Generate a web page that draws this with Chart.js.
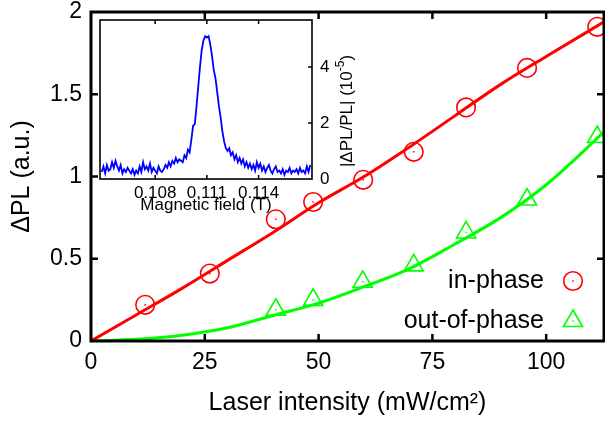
<!DOCTYPE html>
<html>
<head>
<meta charset="utf-8">
<script src="https://cdn.jsdelivr.net/npm/chart.js@4.4.1/dist/chart.umd.min.js"></script>
<style>
    body { margin: 0; background: #fff; }
    #wrap { position: relative; width: 605px; height: 424px; }
    #main { position: absolute; left: 0; top: 0; }
    #inset { position: absolute; left: 92px; top: 14px; }
</style>
</head>
<body>
<div id="wrap">
    <canvas id="main" width="605" height="424"></canvas>
    <canvas id="inset" width="270" height="206"></canvas>
</div>
<script>
// main panel: Delta PL vs laser intensity
var inPhaseIntensity = [11.9, 26.1, 40.6, 48.8, 59.8, 70.9, 82.4, 95.8, 111.2];
var inPhase = [0.22, 0.41, 0.74, 0.845, 0.98, 1.15, 1.42, 1.66, 1.91];
var outPhaseIntensity = [40.6, 48.8, 59.7, 70.9, 82.4, 95.8, 111.2];
var outOfPhase = [0.19, 0.25, 0.36, 0.46, 0.66, 0.86, 1.24];
var fitIntensity = [0, 10, 20, 30, 40, 50, 60, 70, 80, 90, 100, 112.7];
var inPhaseFit = [0, 0.16, 0.32, 0.49, 0.66, 0.84, 1.0, 1.18, 1.37, 1.56, 1.73, 1.94];
var outOfPhaseFit = [0, 0.01, 0.035, 0.08, 0.155, 0.23, 0.33, 0.44, 0.59, 0.75, 0.95, 1.27];
var xTicks = [0, 25, 50, 75, 100];
var yTicks = [0, 0.5, 1, 1.5, 2];

// inset: |dPL/PL| (1e-5) vs magnetic field (T)
var fieldT = [
    0.1049, 0.1050, 0.1051, 0.1052, 0.1053, 0.1054, 0.1055, 0.1056, 0.1057, 0.1058,
    0.1059, 0.1060, 0.1061, 0.1062, 0.1063, 0.1064, 0.1065, 0.1066, 0.1067, 0.1068,
    0.1069, 0.1070, 0.1071, 0.1072, 0.1073, 0.1074, 0.1075, 0.1076, 0.1077, 0.1078,
    0.1079, 0.1080, 0.1081, 0.1082, 0.1083, 0.1084, 0.1085, 0.1086, 0.1087, 0.1088,
    0.1089, 0.1090, 0.1091, 0.1092, 0.1093, 0.1094, 0.1095, 0.1096, 0.1097, 0.1098,
    0.1099, 0.1100, 0.1101, 0.1102, 0.1103, 0.1104, 0.1105, 0.1106, 0.1107, 0.1108,
    0.1109, 0.1110, 0.1111, 0.1112, 0.1113, 0.1114, 0.1115, 0.1116, 0.1117, 0.1118,
    0.1119, 0.1120, 0.1121, 0.1122, 0.1123, 0.1124, 0.1125, 0.1126, 0.1127, 0.1128,
    0.1129, 0.1130, 0.1131, 0.1132, 0.1133, 0.1134, 0.1135, 0.1136, 0.1137, 0.1138,
    0.1139, 0.1140, 0.1141, 0.1142, 0.1143, 0.1144, 0.1145, 0.1146, 0.1147, 0.1148,
    0.1149, 0.1150, 0.1151, 0.1152, 0.1153, 0.1154, 0.1155, 0.1156, 0.1157, 0.1158,
    0.1159, 0.1160, 0.1161, 0.1162, 0.1163, 0.1164, 0.1165, 0.1166, 0.1167, 0.1168,
    0.1169, 0.1170
];
var ratio = [
    0.25, 0.45, 0.20, 0.50, 0.30, 0.35, 0.60, 0.40, 0.65, 0.45,
    0.30, 0.50, 0.20, 0.35, 0.25, 0.40, 0.30, 0.20, 0.35, 0.15,
    0.30, 0.20, 0.45, 0.25, 0.60, 0.35, 0.45, 0.30, 0.55, 0.25,
    0.40, 0.30, 0.20, 0.45, 0.30, 0.25, 0.35, 0.50, 0.40, 0.60,
    0.45, 0.65, 0.55, 0.75, 0.60, 0.70, 0.65, 0.60, 0.85, 0.75,
    1.05, 0.95, 1.40, 1.90, 1.95, 2.60, 3.30, 4.00, 4.60, 4.95,
    5.10, 5.05, 5.10, 4.80, 4.40, 3.90, 3.60, 3.10, 2.60, 2.20,
    1.70, 1.35, 1.10, 1.00, 1.10, 0.85, 0.95, 0.70, 0.85, 0.60,
    0.75, 0.55, 0.70, 0.45, 0.60, 0.40, 0.55, 0.35, 0.50, 0.30,
    0.60, 0.40, 0.55, 0.30, 0.45, 0.25, 0.40, 0.50, 0.30, 0.20,
    0.35, 0.45, 0.25, 0.30, 0.20, 0.35, 0.15, 0.30, 0.25, 0.40,
    0.20, 0.30, 0.25, 0.35, 0.20, 0.40, 0.25, 0.30, 0.20, 0.45,
    0.25, 0.50
];
var insetXTicks = [0.108, 0.111, 0.114];
var insetYTicks = [0, 2, 4];

var FONT = '"Liberation Sans", Arial, Helvetica, sans-serif';

function pairs(xs, ys) {
    return xs.map(function (x, i) { return { x: x, y: ys[i] }; });
}

function fixTicks(list) {
    return function (scale) {
        scale.ticks = list.map(function (v) { return { value: v }; });
    };
}

function plainLabel(v) {
    return String(v);
}

// frame plus inward tick marks, gnuplot style
var boxTicks = {
    id: 'boxTicks',
    afterDatasetsDraw: function (chart, args, o) {
        var ctx = chart.ctx, a = chart.chartArea;
        var xs = chart.scales.x, ys = chart.scales.y;
        ctx.save();
        ctx.strokeStyle = '#000';
        ctx.lineWidth = o.tickWidth;
        ctx.beginPath();
        xs.ticks.forEach(function (t) {
            var px = xs.getPixelForValue(t.value);
            if (px <= a.left + 1 || px >= a.right - 1) return;
            ctx.moveTo(px, a.bottom); ctx.lineTo(px, a.bottom - o.length);
            ctx.moveTo(px, a.top); ctx.lineTo(px, a.top + o.length);
        });
        ys.ticks.forEach(function (t) {
            var py = ys.getPixelForValue(t.value);
            if (py <= a.top + 1 || py >= a.bottom - 1) return;
            if (o.left) { ctx.moveTo(a.left, py); ctx.lineTo(a.left + o.length, py); }
            if (o.right) { ctx.moveTo(a.right, py); ctx.lineTo(a.right - o.length, py); }
        });
        ctx.stroke();
        ctx.lineWidth = o.frameWidth;
        ctx.strokeRect(a.left, a.top, a.right - a.left, a.bottom - a.top);
        ctx.restore();
    }
};

// small dot in the middle of every open marker + key inside the plot
var markerExtras = {
    id: 'markerExtras',
    afterDraw: function (chart, args, o) {
        var ctx = chart.ctx;
        ctx.save();
        chart.data.datasets.forEach(function (ds, i) {
            if (!ds.key) return;
            var meta = chart.getDatasetMeta(i);
            ctx.fillStyle = ds.borderColor;
            meta.data.forEach(function (pt) {
                ctx.fillRect(pt.x - 0.75, pt.y - 0.75, 1.5, 1.5);
            });
            var k = o.rows[ds.key];
            ctx.font = o.fontSize + 'px ' + FONT;
            ctx.textAlign = 'right';
            ctx.textBaseline = 'middle';
            ctx.fillStyle = '#000';
            ctx.fillText(ds.label, o.textRight, k);
            ctx.strokeStyle = ds.borderColor;
            ctx.fillStyle = 'rgba(0,0,0,0)';
            ctx.lineWidth = ds.borderWidth;
            Chart.helpers.drawPoint(ctx, {
                pointStyle: ds.pointStyle, radius: ds.pointRadius,
                borderWidth: ds.borderWidth, rotation: 0
            }, o.markerX, k);
            ctx.fillStyle = ds.borderColor;
            ctx.fillRect(o.markerX - 0.75, k - 0.75, 1.5, 1.5);
        });
        ctx.restore();
    }
};

new Chart(document.getElementById('main').getContext('2d'), {
    type: 'scatter',
    data: {
        datasets: [{
            label: 'in-phase',
            key: 'inPhase',
            data: pairs(inPhaseIntensity, inPhase),
            pointStyle: 'circle',
            pointRadius: 9.3,
            borderWidth: 1.6,
            borderColor: '#ff0000',
            backgroundColor: 'rgba(0,0,0,0)',
            order: 0
        }, {
            label: 'out-of-phase',
            key: 'outPhase',
            data: pairs(outPhaseIntensity, outOfPhase),
            pointStyle: 'triangle',
            pointRadius: 11,
            borderWidth: 1.6,
            borderColor: '#00ff00',
            backgroundColor: 'rgba(0,0,0,0)',
            order: 1
        }, {
            label: 'in-phase fit',
            data: pairs(fitIntensity, inPhaseFit),
            showLine: true,
            pointRadius: 0,
            borderWidth: 3,
            borderColor: '#ff0000',
            cubicInterpolationMode: 'monotone',
            order: 2
        }, {
            label: 'out-of-phase fit',
            data: pairs(fitIntensity, outOfPhaseFit),
            showLine: true,
            pointRadius: 0,
            borderWidth: 3,
            borderColor: '#00ff00',
            cubicInterpolationMode: 'monotone',
            order: 3
        }]
    },
    options: {
        responsive: false,
        animation: false,
        events: [],
        layout: { autoPadding: false, padding: { top: 12, right: 1, left: 0, bottom: 0 } },
        scales: {
            x: {
                type: 'linear',
                min: 0,
                max: 112.7,
                afterBuildTicks: fixTicks(xTicks),
                afterFit: function (s) { s.height = 83; s.paddingLeft = 0; s.paddingRight = 0; },
                grid: { display: false, drawTicks: false },
                border: { display: false },
                ticks: {
                    color: '#000', padding: 8, maxRotation: 0,
                    font: { family: FONT, size: 23 }, callback: plainLabel
                },
                title: {
                    display: true,
                    text: 'Laser intensity (mW/cm\u00b2)',
                    color: '#000',
                    padding: { top: 0, bottom: 6 },
                    font: { family: FONT, size: 25, lineHeight: 1.2 }
                }
            },
            y: {
                type: 'linear',
                min: 0,
                max: 2,
                afterBuildTicks: fixTicks(yTicks),
                afterFit: function (s) { s.width = 91; s.paddingTop = 0; s.paddingBottom = 0; },
                grid: { display: false, drawTicks: false },
                border: { display: false },
                ticks: { color: '#000', padding: 9, font: { family: FONT, size: 23 }, callback: plainLabel },
                title: {
                    display: true,
                    text: '\u0394PL (a.u.)',
                    color: '#000',
                    padding: { top: 7, bottom: 0 },
                    font: { family: FONT, size: 25, lineHeight: 1.2 }
                }
            }
        },
        plugins: {
            legend: { display: false },
            tooltip: { enabled: false },
            boxTicks: { tickWidth: 2.5, length: 7, frameWidth: 3, left: true, right: true },
            markerExtras: { rows: { inPhase: 281, outPhase: 321 }, textRight: 544, markerX: 573, fontSize: 25 }
        }
    },
    plugins: [boxTicks, markerExtras]
});

// rotated inset y title with a superscript exponent, reading bottom to top
var insetTitle = {
    id: 'insetTitle',
    afterDraw: function (chart, args, o) {
        var ctx = chart.ctx;
        var head = '|\u0394PL/PL| (10', sup = '-5', tail = ')';
        ctx.save();
        ctx.translate(o.x, o.y);
        ctx.rotate(-Math.PI / 2);
        ctx.fillStyle = '#000';
        ctx.textBaseline = 'middle';
        ctx.textAlign = 'left';
        ctx.font = '17px ' + FONT;
        var w1 = ctx.measureText(head).width, w3 = ctx.measureText(tail).width;
        ctx.font = '12px ' + FONT;
        var w2 = ctx.measureText(sup).width;
        var s = -(w1 + w2 + w3) / 2;
        ctx.font = '17px ' + FONT;
        ctx.fillText(head, s, 0);
        ctx.fillText(tail, s + w1 + w2, 0);
        ctx.font = '12px ' + FONT;
        ctx.fillText(sup, s + w1, -6);
        ctx.restore();
    }
};

new Chart(document.getElementById('inset').getContext('2d'), {
    type: 'scatter',
    data: {
        datasets: [{
            label: 'signal',
            data: pairs(fieldT, ratio),
            showLine: true,
            pointRadius: 0,
            borderWidth: 1.8,
            borderColor: '#0000ff',
            tension: 0
        }]
    },
    options: {
        responsive: false,
        animation: false,
        events: [],
        layout: { autoPadding: false, padding: { left: 8, top: 6, right: 0, bottom: 0 } },
        scales: {
            x: {
                type: 'linear',
                min: 0.1048,
                max: 0.1171,
                afterBuildTicks: fixTicks(insetXTicks),
                afterFit: function (s) { s.height = 41; s.paddingLeft = 0; s.paddingRight = 0; },
                grid: { display: false, drawTicks: false },
                border: { display: false },
                ticks: {
                    color: '#000', padding: 4, maxRotation: 0,
                    font: { family: FONT, size: 17 },
                    callback: function (v) { return v.toFixed(3); }
                },
                title: {
                    display: true,
                    text: 'Magnetic field (T)',
                    color: '#000',
                    padding: { top: 0, bottom: 4 },
                    font: { family: FONT, size: 17, lineHeight: 1.2 }
                }
            },
            y: {
                type: 'linear',
                position: 'right',
                min: 0,
                max: 5.68,
                afterBuildTicks: fixTicks(insetYTicks),
                afterFit: function (s) { s.width = 50; s.paddingTop = 0; s.paddingBottom = 0; },
                grid: { display: false, drawTicks: false },
                border: { display: false },
                ticks: { color: '#000', padding: 8, font: { family: FONT, size: 17 }, callback: plainLabel }
            }
        },
        plugins: {
            legend: { display: false },
            tooltip: { enabled: false },
            boxTicks: { tickWidth: 1.5, length: 4, frameWidth: 1.6, left: false, right: true },
            insetTitle: { x: 255, y: 97 }
        }
    },
    plugins: [boxTicks, insetTitle]
});
</script>
</body>
</html>
